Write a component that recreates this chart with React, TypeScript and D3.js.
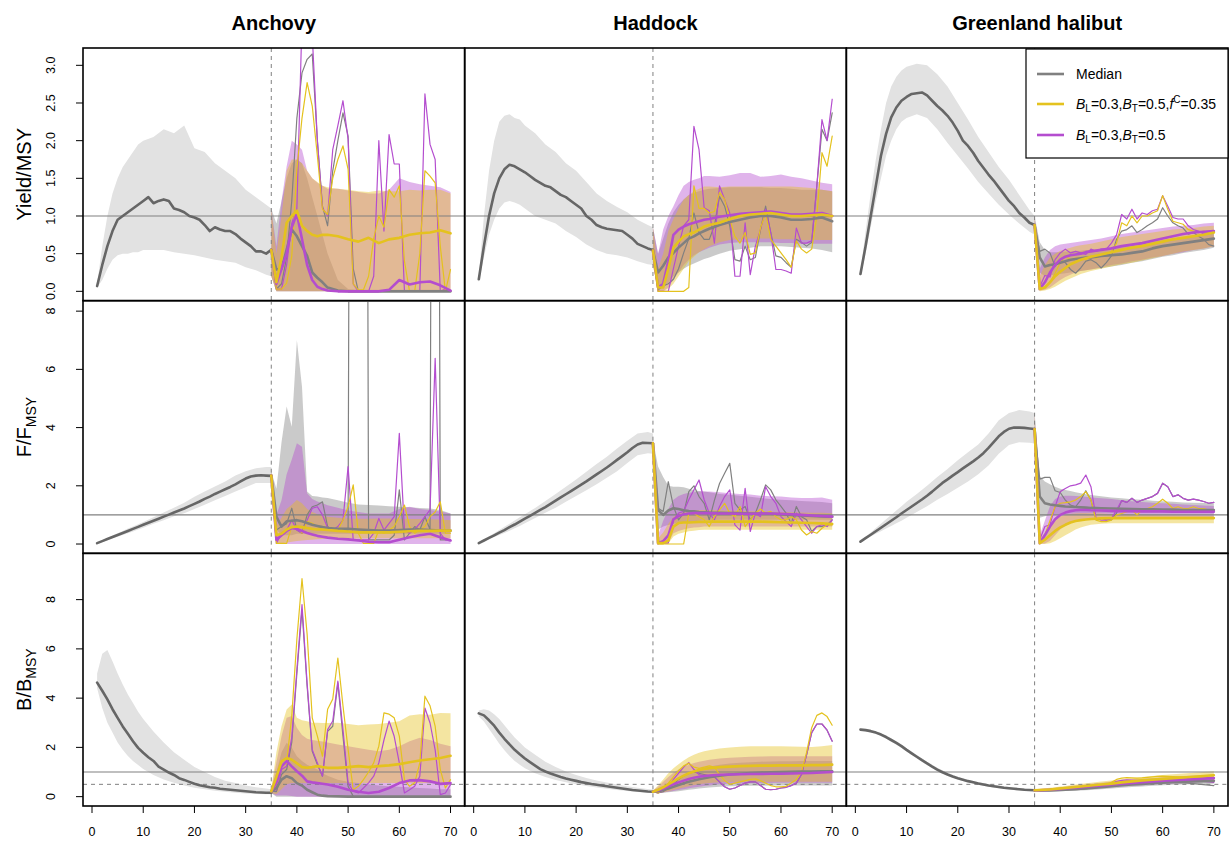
import React from "react";
import * as d3 from "d3";

// ---------- axes / categories ----------
const SPECIES = ["Anchovy", "Haddock", "Greenland halibut"];
const HIST_YEARS = d3.range(1, 36);
const HIST_C = [1, 2, 3, 4, 5, 6, 7, 8, 9, 10, 12, 14, 16, 18, 20, 22, 24, 26, 28, 30, 32, 34, 35];
const PROJ_YEARS = d3.range(35, 71);
const PROJ_C = [35, 36, 37, 38, 39, 40, 41, 42, 43, 44, 45, 46, 48, 50, 52, 54, 56, 58, 60, 62, 64, 66, 68, 70];
const X_TICKS = [0, 10, 20, 30, 40, 50, 60, 70];
const Y_TICKS_YIELD = [0, 0.5, 1, 1.5, 2, 2.5, 3];
const Y_TICKS_F = [0, 2, 4, 6, 8];
const Y_TICKS_B = [0, 2, 4, 6, 8];

// ---------- Anchovy Yield/MSY ----------
const aYHistMed = [0.07,0.35,0.6,0.8,0.95,1.0,1.05,1.1,1.15,1.2,1.25,1.17,1.2,1.22,1.2,1.1,1.08,1.05,1.0,0.98,0.95,0.88,0.8,0.85,0.82,0.8,0.8,0.76,0.7,0.65,0.6,0.53,0.53,0.5,0.55];
const aYHistHi = [0.1,0.6,1.0,1.3,1.5,1.65,1.75,1.85,1.95,2.0,2.05,2.15,2.1,2.2,1.9,1.85,1.7,1.6,1.5,1.35,1.25,1.15,1.1];
const aYHistLo = [0.05,0.15,0.3,0.42,0.48,0.5,0.5,0.52,0.52,0.55,0.55,0.55,0.52,0.5,0.48,0.45,0.42,0.4,0.38,0.32,0.28,0.22,0.2];
const aYGrayMed = [0.55,0.29,0.3,0.55,0.82,0.73,0.6,0.47,0.25,0.18,0.12,0.05,0.01,0,0,0,0,0,0,0,0,0,0,0];
const aYGrayLo = [0.2,0,0,0,0,0,0,0,0,0,0,0,0,0,0,0,0,0,0,0,0,0,0,0];
const aYGrayHi = [1.1,0.9,1.2,1.5,1.7,1.75,1.7,1.5,1.25,1.0,0.75,0.5,0.15,0.03,0.02,0.02,0.02,0.02,0.02,0.02,0.02,0.02,0.02,0.02];
const aYYelMed = [0.55,0.12,0.45,0.91,1.0,1.07,0.87,0.8,0.75,0.73,0.75,0.75,0.73,0.69,0.66,0.71,0.64,0.69,0.71,0.75,0.77,0.78,0.81,0.77];
const aYYelLo = [0.2,0,0,0,0,0,0,0,0,0,0,0,0,0,0,0,0,0,0,0,0,0,0,0];
const aYYelHi = [1.1,0.5,1.0,1.6,1.75,1.75,1.7,1.6,1.5,1.45,1.4,1.38,1.36,1.35,1.33,1.32,1.34,1.33,1.33,1.35,1.34,1.35,1.35,1.3];
const aYPurMed = [0.55,0.1,0.3,0.5,0.85,1.03,0.69,0.35,0.15,0.06,0.03,0.01,0,0,0,0,0,0.02,0.15,0.09,0.12,0.13,0.08,0.01];
const aYPurLo = [0.2,0,0,0,0,0,0,0,0,0,0,0,0,0,0,0,0,0,0,0,0,0,0,0];
const aYPurHi = [1.1,0.6,1.2,1.66,2.0,1.95,1.88,1.6,1.5,1.44,1.4,1.36,1.36,1.34,1.32,1.3,1.3,1.35,1.5,1.45,1.42,1.4,1.38,1.32];
const aYGrayThin = [0.55,0.03,0.1,0.45,1.2,2.3,2.9,3.08,3.15,2.0,1.13,0.87,1.6,2.0,2.37,2.06,0.3,0,0,0,0,0,0,0,0,0,0,0,0,0,0,0,0,0,0,0];
const aYPurThin = [0.55,0.03,0.03,0.35,0.9,1.1,3.6,3.6,3.4,2.0,1.11,1.0,1.88,2.2,2.53,2.02,0.1,0,0,0,0.2,2.0,0.8,2.08,1.69,1.69,0,0,0,0,2.62,1.95,1.75,0,0.03,0];
const aYYelThin = [0.55,0.03,0.03,0.11,0.47,1.62,2.3,2.77,2.46,1.8,1.09,1.02,1.5,1.75,1.93,1.62,0.1,0.02,0.02,0.2,0.7,1.0,0.85,1.35,1.25,1.4,0.4,0,0,0.5,1.6,1.53,1.44,0.6,0,0.29];

// ---------- Haddock Yield/MSY ----------
const hYHistMed = [0.16,0.6,1.0,1.3,1.5,1.62,1.68,1.66,1.62,1.58,1.53,1.48,1.44,1.4,1.38,1.33,1.28,1.25,1.2,1.15,1.1,1.0,0.95,0.88,0.85,0.83,0.82,0.81,0.8,0.75,0.7,0.63,0.6,0.57,0.55];
const hYHistHi = [0.2,1.0,1.6,2.0,2.25,2.33,2.35,2.3,2.28,2.2,2.1,1.95,1.85,1.7,1.6,1.45,1.3,1.2,1.12,1.05,0.95,0.88,0.85];
const hYHistLo = [0.12,0.45,0.75,0.95,1.1,1.18,1.2,1.18,1.15,1.1,1.0,0.95,0.9,0.8,0.72,0.62,0.55,0.5,0.48,0.45,0.4,0.36,0.35];
const hYGrayMed = [0.54,0.25,0.34,0.45,0.51,0.58,0.64,0.7,0.73,0.77,0.8,0.83,0.88,0.92,0.95,0.98,1.0,1.0,0.98,0.95,0.95,0.96,0.98,0.93];
const hYGrayLo = [0.35,0.03,0.05,0.12,0.2,0.25,0.3,0.34,0.37,0.4,0.43,0.45,0.5,0.54,0.56,0.58,0.6,0.6,0.6,0.59,0.58,0.57,0.55,0.52];
const hYGrayHi = [0.85,0.5,0.7,0.9,1.05,1.15,1.22,1.28,1.31,1.33,1.35,1.36,1.37,1.38,1.38,1.38,1.38,1.37,1.37,1.36,1.35,1.35,1.35,1.33];
const hYYelMed = [0.54,0.05,0.05,0.3,0.58,0.66,0.73,0.76,0.78,0.82,0.86,0.88,0.91,0.96,1.0,1.02,1.03,1.04,1.02,1.0,1.0,1.01,1.02,1.0];
const hYYelLo = [0.35,0,0,0.03,0.1,0.2,0.3,0.4,0.46,0.52,0.56,0.6,0.65,0.68,0.69,0.7,0.7,0.7,0.69,0.69,0.68,0.68,0.68,0.68];
const hYYelHi = [0.85,0.3,0.5,0.8,0.96,1.1,1.22,1.28,1.33,1.36,1.39,1.39,1.38,1.39,1.39,1.39,1.39,1.39,1.39,1.39,1.38,1.37,1.35,1.33];
const hYPurMed = [0.54,0.05,0.1,0.4,0.75,0.82,0.86,0.89,0.91,0.93,0.95,0.96,0.99,1.01,1.03,1.04,1.05,1.06,1.04,1.02,1.02,1.03,1.04,1.0];
const hYPurLo = [0.35,0,0,0.05,0.15,0.25,0.35,0.42,0.48,0.52,0.55,0.58,0.62,0.64,0.65,0.65,0.65,0.65,0.64,0.64,0.63,0.63,0.63,0.63];
const hYPurHi = [0.85,0.5,0.82,1.0,1.13,1.28,1.4,1.45,1.48,1.5,1.53,1.53,1.52,1.54,1.57,1.57,1.52,1.53,1.55,1.52,1.5,1.47,1.44,1.42];
const hYGrayThin = [0.54,0.02,0.07,0.1,0.16,0.3,0.51,0.7,1.04,0.78,0.69,0.69,0.87,1.26,1.13,0.87,0.42,0.4,0.6,0.42,0.45,0.82,1.13,0.78,0.47,0.45,0.38,0.32,0.69,0.65,0.6,0.65,1.4,2.15,2.0,2.37];
const hYPurThin = [0.54,0,0,0,0.3,0.6,0.87,0.95,2.19,1.88,1.11,1.07,0.64,1.4,1.22,1.04,0.2,0.2,0.91,0.22,0.6,0.82,1.09,0.78,0.29,0.29,0.27,0.24,0.84,0.64,0.64,0.67,1.4,2.28,2.0,2.55];
const hYYelThin = [0.54,0,0,0,0,0,0,0.05,1.4,1.1,1.1,1.04,1.06,1.31,1.22,0.96,0.73,0.64,0.78,0.49,0.51,0.84,1.04,0.69,0.6,0.51,0.42,0.32,0.67,0.56,0.51,0.56,1.0,1.84,1.66,2.06];

// ---------- Greenland halibut Yield/MSY ----------
const gYHistMed = [0.23,0.6,1.0,1.4,1.8,2.09,2.31,2.44,2.53,2.58,2.62,2.63,2.64,2.6,2.53,2.46,2.4,2.33,2.24,2.13,2.0,1.93,1.84,1.73,1.64,1.55,1.47,1.38,1.29,1.2,1.13,1.04,0.98,0.91,0.88];
const gYHistHi = [0.26,0.8,1.3,1.75,2.15,2.5,2.72,2.85,2.93,2.98,3.02,3.0,2.88,2.72,2.5,2.28,2.05,1.85,1.65,1.48,1.28,1.08,1.0];
const gYHistLo = [0.2,0.5,0.85,1.2,1.5,1.8,2.0,2.15,2.25,2.3,2.35,2.3,2.15,1.97,1.8,1.63,1.45,1.3,1.15,1.02,0.9,0.79,0.75];
const gYGrayMed = [0.88,0.45,0.33,0.35,0.36,0.38,0.4,0.42,0.43,0.44,0.45,0.45,0.47,0.48,0.49,0.51,0.53,0.57,0.6,0.62,0.64,0.66,0.68,0.7];
const gYGrayLo = [0.75,0.25,0.2,0.21,0.22,0.23,0.24,0.25,0.26,0.27,0.28,0.29,0.31,0.33,0.35,0.38,0.4,0.43,0.46,0.48,0.51,0.53,0.55,0.58];
const gYGrayHi = [1.0,0.65,0.55,0.52,0.52,0.52,0.53,0.53,0.54,0.54,0.55,0.55,0.56,0.58,0.6,0.62,0.64,0.66,0.68,0.7,0.72,0.74,0.76,0.78];
const gYYelMed = [0.88,0.03,0.05,0.12,0.2,0.26,0.31,0.36,0.39,0.42,0.44,0.46,0.49,0.52,0.55,0.58,0.6,0.63,0.66,0.69,0.71,0.73,0.75,0.78];
const gYYelLo = [0.75,0,0.01,0.03,0.06,0.1,0.14,0.17,0.2,0.23,0.25,0.27,0.3,0.33,0.36,0.38,0.41,0.44,0.47,0.5,0.53,0.55,0.57,0.6];
const gYYelHi = [1.0,0.2,0.35,0.45,0.5,0.54,0.56,0.58,0.6,0.61,0.62,0.63,0.66,0.69,0.72,0.74,0.76,0.78,0.8,0.82,0.83,0.84,0.86,0.87];
const gYPurMed = [0.88,0.03,0.12,0.25,0.35,0.42,0.46,0.48,0.49,0.5,0.52,0.53,0.55,0.57,0.6,0.62,0.64,0.67,0.7,0.73,0.76,0.78,0.79,0.8];
const gYPurLo = [0.75,0.01,0.02,0.05,0.1,0.15,0.19,0.22,0.25,0.27,0.28,0.29,0.32,0.35,0.37,0.4,0.42,0.45,0.47,0.5,0.52,0.55,0.57,0.6];
const gYPurHi = [1.0,0.3,0.45,0.55,0.6,0.62,0.63,0.64,0.65,0.66,0.67,0.68,0.7,0.73,0.76,0.78,0.8,0.82,0.84,0.86,0.87,0.88,0.9,0.91];
const gYGrayThin = [0.88,0.53,0.56,0.51,0.33,0.42,0.38,0.29,0.24,0.31,0.4,0.42,0.38,0.31,0.38,0.47,0.69,0.8,0.82,0.87,0.78,0.82,0.87,0.91,0.96,1.11,1.0,0.91,0.87,0.84,0.76,0.78,0.73,0.69,0.62,0.6];
const gYPurThin = [0.88,0.06,0.21,0.19,0.42,0.51,0.56,0.51,0.53,0.51,0.49,0.56,0.53,0.56,0.56,0.64,0.75,1.02,0.96,1.09,0.96,1.04,1.02,1.07,1.09,1.27,1.13,0.98,0.96,0.96,0.87,0.82,0.8,0.76,0.78,0.8];
const gYYelThin = [0.88,0.03,0.06,0.12,0.24,0.38,0.47,0.42,0.44,0.44,0.42,0.47,0.44,0.47,0.49,0.53,0.64,0.91,0.87,1.0,0.91,1.0,1.0,1.04,1.07,1.27,1.09,0.93,0.91,0.89,0.82,0.8,0.78,0.8,0.78,0.78];

// ---------- Anchovy F/Fmsy ----------
const aFHistMed = [0.03,0.1,0.17,0.24,0.31,0.38,0.45,0.52,0.59,0.66,0.73,0.8,0.87,0.94,1.01,1.08,1.15,1.22,1.3,1.38,1.46,1.55,1.63,1.72,1.8,1.88,1.96,2.05,2.15,2.25,2.32,2.35,2.36,2.35,2.34];
const aFHistHi = [0.05,0.13,0.21,0.29,0.37,0.45,0.53,0.6,0.68,0.76,0.92,1.08,1.25,1.42,1.62,1.8,1.98,2.15,2.35,2.5,2.6,2.65,2.65];
const aFHistLo = [0.01,0.07,0.13,0.19,0.25,0.31,0.37,0.43,0.5,0.56,0.7,0.82,0.95,1.06,1.2,1.35,1.5,1.65,1.8,1.95,2.1,2.1,2.1];
const aFGrayMed = [2.35,0.94,0.6,0.78,0.8,0.82,0.78,0.72,0.66,0.62,0.58,0.55,0.52,0.52,0.5,0.48,0.46,0.46,0.48,0.5,0.5,0.48,0.46,0.46];
const aFGrayLo = [2.1,0.5,0.3,0.3,0.3,0.35,0.35,0.35,0.35,0.35,0.35,0.35,0.35,0.35,0.35,0.35,0.35,0.35,0.35,0.35,0.35,0.35,0.35,0.35];
const aFGrayHi = [2.5,1.9,3.5,4.72,4.03,7.0,5.4,1.8,1.65,1.63,1.6,1.58,1.5,1.42,1.36,1.34,1.32,1.3,1.28,1.26,1.24,1.22,1.17,1.05];
const aFYelMed = [2.35,0.3,0.35,0.5,0.58,0.6,0.58,0.55,0.52,0.5,0.5,0.48,0.45,0.43,0.4,0.4,0.4,0.4,0.42,0.44,0.45,0.45,0.46,0.46];
const aFYelLo = [2.1,0,0.02,0.05,0.08,0.1,0.12,0.14,0.15,0.16,0.17,0.18,0.18,0.19,0.19,0.2,0.2,0.2,0.2,0.2,0.2,0.2,0.2,0.2];
const aFYelHi = [2.5,0.6,0.9,1.2,1.35,1.51,1.4,1.2,1.1,1.02,0.96,0.94,0.9,0.88,0.87,0.87,0.88,0.88,0.87,0.86,0.86,0.85,0.84,0.82];
const aFPurMed = [2.35,0.15,0.3,0.45,0.55,0.52,0.45,0.38,0.33,0.28,0.25,0.22,0.18,0.16,0.12,0.08,0.06,0.06,0.15,0.23,0.3,0.35,0.23,0.12];
const aFPurLo = [2.1,0,0,0,0,0,0,0,0,0,0,0,0,0,0,0,0,0,0,0,0,0,0,0];
const aFPurHi = [2.5,1.0,1.5,2.4,2.9,3.46,3.34,1.74,1.55,1.46,1.4,1.33,1.25,1.15,1.1,1.05,1.05,1.05,1.2,1.28,1.2,1.17,1.12,1.05];
const aFGrayThin = [2.35,0.48,0.6,0.7,1.23,0.48,0.37,1.0,1.28,1.34,1.45,0.6,0.48,0.48,0.48,0.48,60,60,60,0.14,0.14,0.14,0.14,0.14,0.3,1.86,0.14,0.37,0.6,0.48,0.94,0.5,60,0.14,0.14,0.14];
const aFPurThin = [2.35,0.02,0.37,0.48,0.82,0.48,0.37,0.82,1.23,1.28,1.0,0.55,0.48,0.6,0.82,2.66,0.14,0.14,0.14,0.14,0.37,0.88,0.48,0.71,0.94,3.8,0.48,0.37,0.5,0.71,0.94,1.17,6.38,0.37,0.14,0.14];
const aFYelThin = [2.35,0.02,0.02,0.02,0.6,0.6,0.37,0.77,0.71,0.6,0.48,0.48,0.48,0.48,0.82,1.28,2.03,0.37,0.02,0.02,0.02,0.48,0.37,0.48,0.6,0.94,1.34,0.6,0.37,0.48,0.6,0.94,1.1,1.45,0.37,0.37];

// ---------- Haddock F/Fmsy ----------
const hFHistMed = [0.03,0.12,0.21,0.3,0.39,0.48,0.58,0.67,0.77,0.87,0.97,1.07,1.17,1.27,1.38,1.49,1.6,1.71,1.82,1.93,2.04,2.15,2.27,2.39,2.51,2.63,2.76,2.89,3.02,3.15,3.3,3.42,3.48,3.47,3.46];
const hFHistHi = [0.05,0.16,0.27,0.37,0.48,0.59,0.7,0.81,0.92,1.02,1.24,1.48,1.72,1.97,2.22,2.48,2.75,3.0,3.28,3.55,3.8,3.85,3.8];
const hFHistLo = [0.02,0.09,0.16,0.24,0.31,0.38,0.46,0.54,0.62,0.71,0.89,1.07,1.25,1.45,1.65,1.85,2.05,2.28,2.5,2.78,3.05,3.12,3.1];
const hFGrayMed = [3.46,1.17,1.0,1.15,1.23,1.2,1.16,1.13,1.12,1.1,1.09,1.08,1.07,1.06,1.06,1.05,1.05,1.04,1.02,1.0,0.98,0.96,0.95,0.94];
const hFGrayLo = [3.3,0.5,0.6,0.65,0.7,0.72,0.74,0.76,0.78,0.8,0.81,0.82,0.83,0.83,0.83,0.83,0.83,0.83,0.83,0.83,0.83,0.83,0.83,0.83];
const hFGrayHi = [3.6,2.66,2.3,2.0,1.97,1.97,1.95,1.9,1.85,1.82,1.8,1.78,1.72,1.69,1.66,1.62,1.58,1.55,1.52,1.5,1.48,1.46,1.44,1.4];
const hFYelMed = [3.46,0.03,0.03,0.12,0.6,0.72,0.74,0.74,0.75,0.76,0.76,0.77,0.77,0.77,0.77,0.77,0.77,0.76,0.75,0.74,0.73,0.72,0.71,0.69];
const hFYelLo = [3.3,0,0,0.02,0.26,0.35,0.4,0.44,0.46,0.48,0.49,0.49,0.49,0.49,0.49,0.49,0.49,0.49,0.49,0.49,0.49,0.49,0.49,0.49];
const hFYelHi = [3.6,0.2,0.4,0.7,0.94,1.05,1.1,1.14,1.16,1.17,1.17,1.17,1.16,1.15,1.14,1.13,1.12,1.11,1.1,1.09,1.08,1.07,1.07,1.06];
const hFPurMed = [3.46,0.03,0.1,0.3,0.85,0.96,1.02,1.05,1.06,1.06,1.06,1.06,1.05,1.05,1.04,1.04,1.05,1.05,1.04,1.02,1.0,0.98,0.96,0.94];
const hFPurLo = [3.3,0,0,0.05,0.37,0.45,0.5,0.54,0.57,0.58,0.6,0.6,0.6,0.6,0.6,0.6,0.6,0.6,0.6,0.6,0.6,0.6,0.6,0.6];
const hFPurHi = [3.6,0.3,0.8,1.2,1.52,1.65,1.72,1.76,1.78,1.8,1.8,1.8,1.78,1.74,1.72,1.7,1.66,1.64,1.63,1.6,1.58,1.58,1.6,1.52];
const hFGrayThin = [3.46,1.23,1.12,2.14,1.29,0.83,1.06,1.8,2.0,1.63,1.4,0.83,1.5,2.08,2.43,2.77,1.4,1.17,1.29,0.83,1.06,1.52,2.03,1.86,1.52,1.29,1.06,0.71,1.29,0.94,0.83,0.43,0.6,0.6,0.66,0.83];
const hFPurThin = [3.46,0.03,0.03,0.03,0.83,1.06,1.12,1.52,1.86,2.2,1.52,1.06,0.83,1.29,1.63,1.86,0.66,0.48,1.91,0.43,1.06,0.94,1.97,1.63,1.4,0.94,0.77,0.6,1.06,0.83,0.6,0.37,0.6,0.66,0.6,0.83];
const hFYelThin = [3.46,0,0,0,0,0,0,1.06,1.06,0.94,0.83,0.6,0.94,1.17,1.4,1.06,0.94,1.29,0.6,0.83,1.06,1.2,1.06,1.12,0.94,0.83,0.83,0.94,0.83,0.48,0.31,0.43,0.37,0.54,0.66,0.66];

// ---------- Greenland halibut F/Fmsy ----------
const gFHistMed = [0.08,0.2,0.32,0.44,0.56,0.68,0.8,0.92,1.05,1.17,1.29,1.41,1.53,1.66,1.8,1.95,2.1,2.22,2.35,2.47,2.6,2.72,2.84,2.97,3.12,3.3,3.5,3.7,3.85,3.96,4.0,4.0,3.99,3.97,3.95];
const gFHistHi = [0.1,0.25,0.4,0.55,0.7,0.85,1.0,1.15,1.3,1.45,1.72,2.0,2.3,2.58,2.88,3.15,3.42,3.8,4.25,4.5,4.6,4.55,4.5];
const gFHistLo = [0.06,0.16,0.26,0.35,0.44,0.53,0.62,0.71,0.8,0.9,1.1,1.3,1.52,1.72,1.93,2.15,2.4,2.7,3.1,3.4,3.5,3.48,3.45];
const gFGrayMed = [3.95,1.63,1.4,1.36,1.33,1.31,1.29,1.28,1.27,1.26,1.25,1.24,1.23,1.22,1.21,1.2,1.19,1.19,1.18,1.18,1.17,1.17,1.17,1.17];
const gFGrayLo = [3.45,0.9,0.95,1.0,1.02,1.03,1.03,1.04,1.04,1.04,1.04,1.05,1.05,1.05,1.05,1.05,1.05,1.05,1.05,1.05,1.05,1.05,1.05,1.05];
const gFGrayHi = [4.5,2.34,2.15,2.05,1.97,1.9,1.86,1.82,1.78,1.74,1.71,1.68,1.64,1.6,1.57,1.54,1.52,1.49,1.47,1.45,1.43,1.42,1.41,1.4];
const gFYelMed = [3.95,0.03,0.15,0.3,0.45,0.57,0.66,0.74,0.79,0.82,0.84,0.86,0.88,0.89,0.89,0.89,0.89,0.89,0.89,0.89,0.89,0.89,0.89,0.89];
const gFYelLo = [3.45,0,0,0.03,0.1,0.2,0.3,0.4,0.5,0.57,0.62,0.66,0.7,0.71,0.71,0.71,0.71,0.71,0.71,0.71,0.71,0.71,0.71,0.71];
const gFYelHi = [4.5,0.15,0.4,0.65,0.85,0.95,1.0,1.03,1.05,1.06,1.06,1.06,1.05,1.03,1.02,1.01,1.0,1.0,0.99,0.99,0.98,0.98,0.97,0.97];
const gFPurMed = [3.95,0.03,0.3,0.6,0.85,1.0,1.08,1.13,1.16,1.17,1.17,1.16,1.15,1.14,1.13,1.13,1.12,1.12,1.12,1.11,1.11,1.11,1.11,1.11];
const gFPurLo = [3.45,0,0.02,0.1,0.3,0.5,0.62,0.71,0.77,0.8,0.83,0.85,0.87,0.88,0.89,0.89,0.89,0.89,0.89,0.89,0.89,0.89,0.89,0.89];
const gFPurHi = [4.5,0.3,0.8,1.3,1.55,1.63,1.66,1.66,1.65,1.64,1.62,1.6,1.57,1.55,1.5,1.47,1.44,1.42,1.4,1.38,1.36,1.34,1.32,1.31];
const gFGrayThin = [3.95,2.23,2.29,2.29,1.83,1.77,1.51,1.34,1.28,1.51,1.83,1.51,0.83,0.89,0.83,0.83,1.06,1.49,1.43,1.57,1.43,1.51,1.57,1.63,1.74,2.09,1.97,1.63,1.69,1.57,1.51,1.54,1.51,1.46,1.4,1.43];
const gFPurThin = [3.95,0.14,0.6,0.66,1.28,1.8,1.91,2.0,2.03,2.09,2.37,1.97,0.89,0.82,0.82,0.88,1.17,1.49,1.43,1.57,1.43,1.51,1.57,1.63,1.74,2.09,1.97,1.63,1.69,1.57,1.51,1.54,1.51,1.46,1.4,1.43];
const gFYelThin = [3.95,0.03,0.31,0.8,1.28,1.4,1.42,1.45,1.51,1.63,1.8,1.51,0.82,0.77,0.77,0.82,1.0,1.05,1.11,1.17,1.0,1.17,1.22,1.28,1.4,1.54,1.4,1.22,1.28,1.22,1.22,1.28,1.22,1.22,1.17,1.17];

// ---------- Anchovy B/Bmsy ----------
const aBHistMed = [4.63,4.3,3.95,3.55,3.2,2.85,2.55,2.25,1.98,1.78,1.6,1.45,1.22,1.1,0.98,0.88,0.75,0.68,0.6,0.52,0.46,0.42,0.38,0.36,0.32,0.3,0.28,0.26,0.24,0.22,0.2,0.18,0.17,0.16,0.16];
const aBHistHi = [5.0,5.8,5.95,5.5,5.0,4.55,4.15,3.8,3.45,3.15,2.65,2.2,1.8,1.5,1.2,1.0,0.8,0.65,0.55,0.45,0.38,0.33,0.3];
const aBHistLo = [4.4,3.6,3.0,2.6,2.2,1.9,1.65,1.45,1.28,1.12,0.88,0.7,0.56,0.45,0.36,0.3,0.24,0.2,0.16,0.13,0.11,0.1,0.1];
const aBGrayMed = [0.22,0.35,0.69,0.83,0.75,0.55,0.45,0.28,0.18,0.08,0.04,0.02,0.01,0,0,0,0,0,0,0,0,0,0,0];
const aBGrayLo = [0.15,0,0,0,0,0,0,0,0,0,0,0,0,0,0,0,0,0,0,0,0,0,0,0];
const aBGrayHi = [0.3,1.0,1.8,2.19,2.0,1.64,1.45,1.3,1.2,1.1,0.95,0.85,0.69,0.6,0.55,0.5,0.45,0.42,0.4,0.38,0.35,0.33,0.3,0.3];
const aBYelMed = [0.22,0.8,1.43,1.57,1.5,1.35,1.2,1.17,1.2,1.24,1.2,1.17,1.17,1.2,1.24,1.2,1.24,1.27,1.32,1.4,1.47,1.52,1.57,1.66];
const aBYelLo = [0.15,0.1,0.3,0.5,0.55,0.55,0.55,0.55,0.55,0.55,0.55,0.55,0.55,0.55,0.55,0.55,0.55,0.55,0.55,0.55,0.55,0.55,0.55,0.55];
const aBYelHi = [0.3,1.8,2.86,3.54,3.74,3.2,3.1,3.06,3.0,3.0,2.99,2.99,3.0,2.95,2.9,2.93,2.95,3.0,3.06,3.3,3.35,3.33,3.4,3.39];
const aBPurMed = [0.22,0.56,1.23,1.44,1.23,1.03,0.85,0.62,0.58,0.55,0.52,0.49,0.4,0.28,0.2,0.15,0.2,0.35,0.55,0.66,0.67,0.62,0.52,0.55];
const aBPurLo = [0.15,0.05,0.05,0.05,0.03,0,0,0,0,0,0,0,0,0,0,0,0,0,0,0,0,0,0,0];
const aBPurHi = [0.3,1.4,2.45,3.2,3.27,2.8,2.5,2.35,2.3,2.27,2.24,2.2,2.12,2.05,1.98,1.9,1.84,1.9,2.05,2.25,2.39,2.3,2.15,2.05];
const aBGrayThin = [0.22,0.2,0.9,1.1,2.2,5.0,7.6,4.48,1.84,1.3,0.83,2.65,2.86,4.62,2.45,0.42,0.01,0,0,0,0,0,0,0,0,0,0,0,0,0,0,0,0,0,0,0];
const aBPurThin = [0.22,0.28,1.1,1.23,2.4,5.16,7.8,4.6,1.91,1.37,0.83,2.72,3.07,4.69,2.72,0.56,0.22,0.15,0.35,0.56,0.83,1.37,2.3,3.07,2.45,1.37,0.15,0.28,0.42,0.83,3.6,2.99,1.9,0.08,0.15,0.49];
const aBYelThin = [0.22,0.42,1.23,1.37,3.27,6.4,8.85,6.6,3.2,2.46,1.64,3.55,3.96,5.63,3.69,1.92,0.28,0.42,0.69,1.0,1.37,2.05,3.4,3.35,3.2,2.46,0.69,0.42,0.56,1.37,4.08,3.69,2.86,1.1,0.35,0.69];

// ---------- Haddock B/Bmsy ----------
const hBHistMed = [3.38,3.3,3.1,2.88,2.6,2.35,2.12,1.9,1.72,1.55,1.4,1.26,1.12,1.02,0.94,0.87,0.8,0.74,0.69,0.64,0.59,0.55,0.51,0.48,0.45,0.42,0.39,0.36,0.33,0.3,0.27,0.25,0.23,0.21,0.2];
const hBHistHi = [3.5,3.55,3.5,3.35,3.15,2.9,2.65,2.4,2.2,2.0,1.7,1.42,1.2,1.02,0.88,0.76,0.66,0.57,0.49,0.42,0.36,0.31,0.29];
const hBHistLo = [3.25,3.05,2.75,2.45,2.15,1.88,1.65,1.45,1.3,1.15,0.95,0.8,0.68,0.58,0.5,0.43,0.37,0.32,0.27,0.23,0.19,0.16,0.15];
const hBGrayMed = [0.2,0.22,0.27,0.33,0.4,0.47,0.54,0.6,0.66,0.71,0.75,0.79,0.85,0.9,0.93,0.96,0.98,0.99,1.0,1.01,1.02,1.02,1.03,1.03];
const hBGrayLo = [0.15,0.15,0.16,0.18,0.2,0.22,0.25,0.28,0.3,0.33,0.35,0.37,0.4,0.42,0.43,0.44,0.44,0.45,0.45,0.45,0.45,0.45,0.45,0.45];
const hBGrayHi = [0.25,0.3,0.4,0.52,0.64,0.76,0.87,0.97,1.05,1.12,1.18,1.22,1.3,1.35,1.38,1.4,1.42,1.43,1.44,1.44,1.45,1.45,1.45,1.45];
const hBYelMed = [0.2,0.28,0.38,0.5,0.62,0.74,0.85,0.95,1.02,1.08,1.12,1.15,1.2,1.22,1.24,1.25,1.26,1.26,1.27,1.27,1.27,1.28,1.28,1.3];
const hBYelLo = [0.15,0.15,0.18,0.22,0.27,0.32,0.37,0.42,0.47,0.5,0.53,0.55,0.58,0.6,0.6,0.6,0.6,0.6,0.6,0.6,0.6,0.6,0.6,0.6];
const hBYelHi = [0.25,0.45,0.7,0.95,1.15,1.32,1.47,1.6,1.7,1.78,1.84,1.88,1.95,2.0,2.03,2.05,2.05,2.05,2.05,2.04,2.03,2.02,2.05,2.1];
const hBPurMed = [0.2,0.26,0.33,0.42,0.5,0.58,0.65,0.72,0.77,0.81,0.84,0.86,0.89,0.9,0.91,0.92,0.92,0.93,0.93,0.94,0.95,0.96,0.98,1.0];
const hBPurLo = [0.15,0.15,0.17,0.2,0.23,0.27,0.3,0.34,0.37,0.4,0.43,0.45,0.5,0.52,0.53,0.54,0.55,0.55,0.56,0.56,0.56,0.56,0.56,0.56];
const hBPurHi = [0.25,0.4,0.6,0.8,0.97,1.1,1.2,1.3,1.37,1.42,1.46,1.5,1.55,1.58,1.6,1.62,1.63,1.64,1.64,1.64,1.64,1.64,1.64,1.64];
const hBGrayThin = [0.2,0.15,0.2,0.35,0.5,0.7,0.85,0.95,1.0,0.95,0.9,0.85,0.8,0.6,0.4,0.3,0.35,0.45,0.55,0.6,0.6,0.45,0.3,0.28,0.3,0.35,0.38,0.45,0.55,0.9,1.7,2.6,2.95,2.95,2.7,2.25];
const hBPurThin = [0.2,0.15,0.25,0.45,0.7,0.95,1.2,1.38,1.1,0.9,0.85,0.85,0.8,0.6,0.4,0.3,0.35,0.45,0.55,0.6,0.6,0.45,0.3,0.28,0.3,0.35,0.38,0.45,0.55,0.9,1.7,2.6,2.95,2.95,2.7,2.25];
const hBYelThin = [0.2,0.15,0.3,0.55,0.8,1.05,1.25,1.35,1.2,1.15,1.2,1.25,1.2,0.9,0.65,0.5,0.55,0.6,0.65,0.7,0.72,0.65,0.55,0.45,0.4,0.4,0.42,0.55,0.7,1.0,1.8,2.8,3.3,3.4,3.25,2.9];

// ---------- Greenland halibut B/Bmsy ----------
const gBHistMed = [2.72,2.7,2.66,2.6,2.52,2.42,2.3,2.18,2.05,1.9,1.76,1.62,1.48,1.35,1.22,1.1,0.99,0.9,0.82,0.75,0.69,0.63,0.58,0.53,0.49,0.45,0.42,0.39,0.36,0.34,0.32,0.3,0.28,0.27,0.26];
const gBHistHi = [2.76,2.75,2.72,2.66,2.58,2.48,2.37,2.25,2.12,1.97,1.69,1.42,1.17,0.97,0.81,0.69,0.59,0.51,0.45,0.39,0.35,0.31,0.3];
const gBHistLo = [2.68,2.65,2.6,2.54,2.46,2.36,2.23,2.11,1.98,1.83,1.55,1.28,1.03,0.85,0.7,0.58,0.48,0.4,0.34,0.29,0.25,0.22,0.21];
const gBGrayMed = [0.26,0.25,0.25,0.25,0.26,0.27,0.28,0.29,0.3,0.32,0.33,0.35,0.38,0.42,0.46,0.49,0.52,0.55,0.57,0.59,0.61,0.62,0.63,0.64];
const gBGrayLo = [0.22,0.21,0.21,0.21,0.21,0.22,0.23,0.23,0.24,0.25,0.26,0.27,0.3,0.33,0.36,0.39,0.41,0.44,0.46,0.48,0.49,0.5,0.51,0.52];
const gBGrayHi = [0.3,0.29,0.29,0.3,0.31,0.32,0.34,0.35,0.37,0.39,0.41,0.43,0.47,0.52,0.56,0.6,0.63,0.66,0.69,0.71,0.73,0.75,0.76,0.78];
const gBYelMed = [0.26,0.27,0.28,0.29,0.31,0.33,0.35,0.37,0.39,0.41,0.43,0.45,0.49,0.53,0.58,0.62,0.66,0.69,0.72,0.75,0.78,0.81,0.84,0.87];
const gBYelLo = [0.22,0.22,0.23,0.23,0.24,0.26,0.27,0.29,0.3,0.32,0.33,0.35,0.38,0.41,0.45,0.49,0.53,0.56,0.59,0.62,0.65,0.67,0.7,0.72];
const gBYelHi = [0.3,0.32,0.34,0.36,0.38,0.41,0.43,0.46,0.49,0.51,0.54,0.56,0.61,0.66,0.71,0.75,0.8,0.84,0.88,0.91,0.94,0.97,1.0,1.03];
const gBPurMed = [0.26,0.26,0.27,0.28,0.3,0.31,0.33,0.35,0.37,0.38,0.4,0.42,0.45,0.49,0.53,0.56,0.59,0.62,0.65,0.67,0.69,0.71,0.73,0.75];
const gBPurLo = [0.22,0.21,0.22,0.22,0.23,0.24,0.25,0.27,0.28,0.29,0.31,0.32,0.35,0.38,0.41,0.44,0.46,0.49,0.51,0.53,0.55,0.57,0.59,0.61];
const gBPurHi = [0.3,0.31,0.32,0.34,0.36,0.38,0.4,0.43,0.45,0.47,0.5,0.52,0.56,0.61,0.65,0.69,0.73,0.76,0.79,0.82,0.84,0.86,0.88,0.9];
const gBGrayThin = [0.26,0.25,0.25,0.25,0.26,0.27,0.28,0.29,0.3,0.31,0.32,0.34,0.36,0.39,0.42,0.46,0.5,0.53,0.55,0.56,0.57,0.58,0.59,0.6,0.6,0.6,0.59,0.58,0.57,0.56,0.55,0.53,0.51,0.49,0.47,0.45];
const gBPurThin = [0.26,0.26,0.27,0.28,0.3,0.32,0.34,0.35,0.36,0.36,0.37,0.39,0.41,0.44,0.48,0.54,0.62,0.66,0.68,0.67,0.66,0.66,0.67,0.68,0.69,0.7,0.69,0.68,0.68,0.67,0.66,0.65,0.64,0.62,0.6,0.58];
const gBYelThin = [0.26,0.27,0.29,0.31,0.33,0.35,0.36,0.37,0.38,0.39,0.4,0.42,0.44,0.47,0.5,0.58,0.7,0.75,0.77,0.76,0.75,0.76,0.78,0.8,0.82,0.83,0.82,0.81,0.8,0.8,0.79,0.78,0.77,0.76,0.74,0.72];

// ---------- layout & style ----------
const W = 1230, H = 841;
const LEFT = 83, RIGHT = 1228, TOP = 48, BOTTOM = 806;
const COLW = (RIGHT - LEFT) / 3;
const ROWH = (BOTTOM - TOP) / 3;
const X_DOMAIN: [number, number] = [-1.76, 72.76];
const Y_DOMAINS: [number, number][] = [[-0.124, 3.23], [-0.32, 8.36], [-0.38, 9.88]];
const FONT = "'Liberation Sans', Arial, Helvetica, sans-serif";
const C_HISTBAND = "#e2e2e2";
const C_HISTLINE = "#666666";
const C_GRAY = "#808080";
const C_YEL = "#E4C21E";
const C_PUR = "#B44DCF";
const BAND_GRAY = "rgba(128,128,128,0.42)";
const BAND_PUR = "rgba(180,77,207,0.42)";
const BAND_YEL = "rgba(228,194,30,0.42)";

function mk(hm, hl, hh, gm, gl, gh, ym, yl, yh, pm, pl, ph, gt, pt, yt) {
  return { hm, hl, hh, gm, gl, gh, ym, yl, yh, pm, pl, ph, gt, pt, yt };
}

const PANELS = [
  [
    mk(aYHistMed, aYHistLo, aYHistHi, aYGrayMed, aYGrayLo, aYGrayHi, aYYelMed, aYYelLo, aYYelHi, aYPurMed, aYPurLo, aYPurHi, aYGrayThin, aYPurThin, aYYelThin),
    mk(hYHistMed, hYHistLo, hYHistHi, hYGrayMed, hYGrayLo, hYGrayHi, hYYelMed, hYYelLo, hYYelHi, hYPurMed, hYPurLo, hYPurHi, hYGrayThin, hYPurThin, hYYelThin),
    mk(gYHistMed, gYHistLo, gYHistHi, gYGrayMed, gYGrayLo, gYGrayHi, gYYelMed, gYYelLo, gYYelHi, gYPurMed, gYPurLo, gYPurHi, gYGrayThin, gYPurThin, gYYelThin),
  ],
  [
    mk(aFHistMed, aFHistLo, aFHistHi, aFGrayMed, aFGrayLo, aFGrayHi, aFYelMed, aFYelLo, aFYelHi, aFPurMed, aFPurLo, aFPurHi, aFGrayThin, aFPurThin, aFYelThin),
    mk(hFHistMed, hFHistLo, hFHistHi, hFGrayMed, hFGrayLo, hFGrayHi, hFYelMed, hFYelLo, hFYelHi, hFPurMed, hFPurLo, hFPurHi, hFGrayThin, hFPurThin, hFYelThin),
    mk(gFHistMed, gFHistLo, gFHistHi, gFGrayMed, gFGrayLo, gFGrayHi, gFYelMed, gFYelLo, gFYelHi, gFPurMed, gFPurLo, gFPurHi, gFGrayThin, gFPurThin, gFYelThin),
  ],
  [
    mk(aBHistMed, aBHistLo, aBHistHi, aBGrayMed, aBGrayLo, aBGrayHi, aBYelMed, aBYelLo, aBYelHi, aBPurMed, aBPurLo, aBPurHi, aBGrayThin, aBPurThin, aBYelThin),
    mk(hBHistMed, hBHistLo, hBHistHi, hBGrayMed, hBGrayLo, hBGrayHi, hBYelMed, hBYelLo, hBYelHi, hBPurMed, hBPurLo, hBPurHi, hBGrayThin, hBPurThin, hBYelThin),
    mk(gBHistMed, gBHistLo, gBHistHi, gBGrayMed, gBGrayLo, gBGrayHi, gBYelMed, gBYelLo, gBYelHi, gBPurMed, gBPurLo, gBPurHi, gBGrayThin, gBPurThin, gBYelThin),
  ],
];

const Y_TICKS = [Y_TICKS_YIELD, Y_TICKS_F, Y_TICKS_B];

function zip(xs: number[], ys: number[]): [number, number][] {
  return xs.map((v, i) => [v, ys[i]] as [number, number]);
}
function zip3(xs: number[], lo: number[], hi: number[]): [number, number, number][] {
  return xs.map((v, i) => [v, lo[i], hi[i]] as [number, number, number]);
}

function Panel({ r, c }: { r: number; c: number }) {
  const d = PANELS[r][c];
  const x0 = LEFT + c * COLW;
  const y0 = TOP + r * ROWH;
  const x = d3.scaleLinear().domain(X_DOMAIN).range([x0, x0 + COLW]);
  const y = d3.scaleLinear().domain(Y_DOMAINS[r]).range([y0 + ROWH, y0]);
  const line = d3.line<[number, number]>().x((p) => x(p[0])).y((p) => y(p[1]));
  const area = d3
    .area<[number, number, number]>()
    .x((p) => x(p[0]))
    .y0((p) => y(p[1]))
    .y1((p) => y(p[2]));
  const clipId = `clip-${r}-${c}`;
  return (
    <g>
      <defs>
        <clipPath id={clipId}>
          <rect x={x0} y={y0} width={COLW} height={ROWH} />
        </clipPath>
      </defs>
      <g clipPath={`url(#${clipId})`}>
        <path d={area(zip3(HIST_C, d.hl, d.hh)) || ""} fill={C_HISTBAND} />
        <path d={area(zip3(PROJ_C, d.gl, d.gh)) || ""} fill={BAND_GRAY} />
        <path d={area(zip3(PROJ_C, d.pl, d.ph)) || ""} fill={BAND_PUR} />
        <path d={area(zip3(PROJ_C, d.yl, d.yh)) || ""} fill={BAND_YEL} />
        <line x1={x0} x2={x0 + COLW} y1={y(1)} y2={y(1)} stroke={C_GRAY} strokeWidth={1.1} />
        {r === 2 && (
          <line x1={x0} x2={x0 + COLW} y1={y(0.5)} y2={y(0.5)} stroke={C_GRAY} strokeWidth={1} strokeDasharray="4,4" />
        )}
        <line x1={x(35)} x2={x(35)} y1={y0} y2={y0 + ROWH} stroke={C_GRAY} strokeWidth={1} strokeDasharray="4,4" />
        <g fill="none" strokeLinejoin="round" strokeLinecap="round">
          <path d={line(zip(PROJ_YEARS, d.gt)) || ""} stroke={C_GRAY} strokeWidth={1.2} />
          <path d={line(zip(PROJ_YEARS, d.pt)) || ""} stroke={C_PUR} strokeWidth={1.2} />
          <path d={line(zip(PROJ_YEARS, d.yt)) || ""} stroke={C_YEL} strokeWidth={1.2} />
          <path d={line(zip(HIST_YEARS, d.hm)) || ""} stroke={C_HISTLINE} strokeWidth={2.6} />
          <path d={line(zip(PROJ_C, d.gm)) || ""} stroke={C_GRAY} strokeWidth={2.6} />
          <path d={line(zip(PROJ_C, d.pm)) || ""} stroke={C_PUR} strokeWidth={2.6} />
          <path d={line(zip(PROJ_C, d.ym)) || ""} stroke={C_YEL} strokeWidth={2.6} />
        </g>
      </g>
      <rect x={x0} y={y0} width={COLW} height={ROWH} fill="none" stroke="#000" strokeWidth={1.6} />
      {c === 0 &&
        Y_TICKS[r].map((t) => (
          <g key={t}>
            <line x1={x0 - 7} x2={x0} y1={y(t)} y2={y(t)} stroke="#000" strokeWidth={1} />
            <text
              transform={`translate(${x0 - 28},${y(t)}) rotate(-90)`}
              textAnchor="middle"
              fontSize={12.5}
              fontFamily={FONT}
            >
              {r === 0 ? t.toFixed(1) : String(t)}
            </text>
          </g>
        ))}
      {r === 2 &&
        X_TICKS.map((t) => (
          <g key={t}>
            <line x1={x(t)} x2={x(t)} y1={y0 + ROWH} y2={y0 + ROWH + 7} stroke="#000" strokeWidth={1} />
            <text x={x(t)} y={836} textAnchor="middle" fontSize={12.5} fontFamily={FONT}>
              {String(t)}
            </text>
          </g>
        ))}
    </g>
  );
}

function Legend() {
  const lx0 = 1037, lx1 = 1064, tx = 1076;
  const rows = [74, 104, 135];
  return (
    <g fontFamily={FONT} fontSize={14}>
      <rect x={1026} y={49} width={202} height={109} fill="#fff" stroke="#000" strokeWidth={1.2} />
      <line x1={lx0} x2={lx1} y1={rows[0]} y2={rows[0]} stroke={C_GRAY} strokeWidth={2.6} />
      <line x1={lx0} x2={lx1} y1={rows[1]} y2={rows[1]} stroke={C_YEL} strokeWidth={2.6} />
      <line x1={lx0} x2={lx1} y1={rows[2]} y2={rows[2]} stroke={C_PUR} strokeWidth={2.6} />
      <text x={tx} y={rows[0] + 5}>Median</text>
      <text x={tx} y={rows[1] + 5}>
        <tspan fontStyle="italic">B</tspan>
        <tspan dy={3} fontSize={10}>L</tspan>
        <tspan dy={-3}>=0.3,</tspan>
        <tspan fontStyle="italic">B</tspan>
        <tspan dy={3} fontSize={10}>T</tspan>
        <tspan dy={-3}>=0.5,</tspan>
        <tspan fontStyle="italic">f</tspan>
        <tspan dy={-6} fontSize={10}>C</tspan>
        <tspan dy={6}>=0.35</tspan>
      </text>
      <text x={tx} y={rows[2] + 5}>
        <tspan fontStyle="italic">B</tspan>
        <tspan dy={3} fontSize={10}>L</tspan>
        <tspan dy={-3}>=0.3,</tspan>
        <tspan fontStyle="italic">B</tspan>
        <tspan dy={3} fontSize={10}>T</tspan>
        <tspan dy={-3}>=0.5</tspan>
      </text>
    </g>
  );
}

export default function App() {
  const rowCenters = [0, 1, 2].map((r) => TOP + r * ROWH + ROWH / 2);
  return (
    <svg
      width={W}
      height={H}
      viewBox={`0 0 ${W} ${H}`}
      style={{ position: "absolute", left: 0, top: 0, display: "block", background: "#fff" }}
    >
      <rect x={0} y={0} width={W} height={H} fill="#fff" />
      {SPECIES.map((s, c) => (
        <text
          key={s}
          x={LEFT + c * COLW + COLW / 2}
          y={30}
          textAnchor="middle"
          fontSize={20}
          fontWeight="bold"
          fontFamily={FONT}
        >
          {s}
        </text>
      ))}
      <g fontFamily={FONT} fontSize={20}>
        <text transform={`translate(31,${rowCenters[0]}) rotate(-90)`} textAnchor="middle">
          Yield/MSY
        </text>
        <text transform={`translate(31,${rowCenters[1]}) rotate(-90)`} textAnchor="middle">
          <tspan>F/F</tspan>
          <tspan dy={5} fontSize={14}>MSY</tspan>
        </text>
        <text transform={`translate(31,${rowCenters[2]}) rotate(-90)`} textAnchor="middle">
          <tspan>B/B</tspan>
          <tspan dy={5} fontSize={14}>MSY</tspan>
        </text>
      </g>
      {[0, 1, 2].map((r) => [0, 1, 2].map((c) => <Panel key={`${r}-${c}`} r={r} c={c} />))}
      <Legend />
    </svg>
  );
}
